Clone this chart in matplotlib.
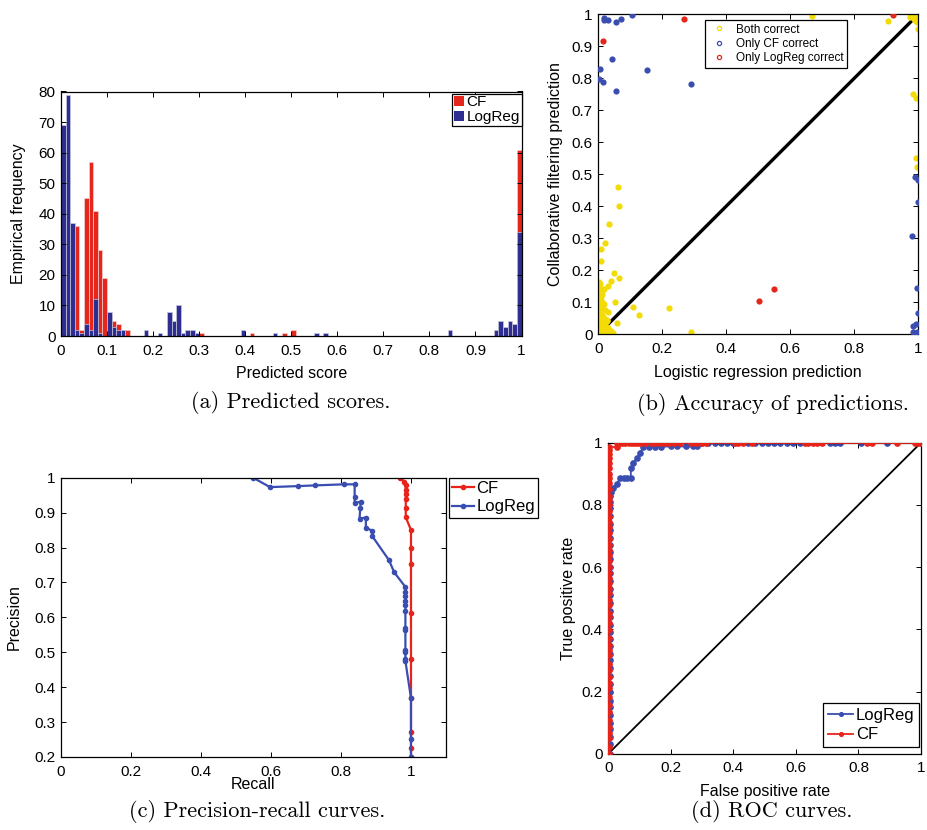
import numpy as np
import matplotlib
matplotlib.use('Agg')
import matplotlib.pyplot as plt
from matplotlib.patches import Patch
from matplotlib.lines import Line2D
from matplotlib.ticker import FuncFormatter

# D A T A ----------------------------------------------------------

# (a) histogram, bins of width 0.01 given by left edge
cf_bin_left = [0.00, 0.03, 0.04, 0.05, 0.06, 0.07, 0.08, 0.09, 0.10, 0.11,
               0.12, 0.13, 0.14, 0.30, 0.41, 0.48, 0.50, 0.99]
cf_counts = [0, 36, 2, 45, 57, 41, 28, 19, 7, 5,
             4, 2, 2, 1, 1, 1, 2, 61]
lr_bin_left = [0.00, 0.01, 0.02, 0.03, 0.04, 0.05, 0.06, 0.07, 0.08, 0.10,
               0.11, 0.12, 0.13, 0.18, 0.21, 0.23, 0.24, 0.25, 0.26, 0.27,
               0.28, 0.29, 0.39, 0.46, 0.55, 0.57, 0.84, 0.94, 0.95, 0.96,
               0.97, 0.98, 0.99]
lr_counts = [69, 79, 37, 2, 1, 4, 2, 12, 1, 8,
             3, 2, 2, 2, 1, 8, 5, 10, 1, 2,
             2, 1, 2, 1, 1, 1, 2, 2, 5, 3,
             5, 4, 34]

# (b) scatter: x = logistic regression, y = collaborative filtering
both_x = [0.062, 0.066, 0.033, 0.020, 0.008, 0.008, 0.050, 0.064, 0.003, 0.039,
          0.031, 0.002, 0.018, 0.011, 0.005, 0.053, 0.109, 0.222, 0.126, 0.290,
          0.059, 0.029, 0.002, 0.005, 0.010, 0.015, 0.020, 0.025, 0.003, 0.008,
          0.012, 0.004, 0.030, 0.035, 0.001, 0.006, 0.018, 0.022, 0.010, 0.040,
          0.045, 0.014, 0.001, 0.002, 0.007, 0.016, 0.026, 0.004, 0.012, 0.001,
          0.003, 0.009, 0.021, 0.028, 0.006, 0.013, 0.002, 0.017, 0.024, 0.008,
          0.667, 0.906, 0.998, 0.983, 0.992, 0.993, 0.995, 0.990, 0.995, 0.985,
          0.998, 0.992, 0.999, 0.988, 0.996, 0.980, 0.975, 0.993, 0.997, 0.986,
          0.978, 0.999, 0.991]
both_y = [0.461, 0.401, 0.345, 0.284, 0.266, 0.229, 0.192, 0.176, 0.164, 0.167,
          0.151, 0.148, 0.140, 0.125, 0.107, 0.099, 0.085, 0.082, 0.058, 0.005,
          0.034, 0.068, 0.010, 0.020, 0.005, 0.015, 0.030, 0.008, 0.040, 0.060,
          0.080, 0.090, 0.020, 0.005, 0.002, 0.030, 0.050, 0.012, 0.100, 0.010,
          0.004, 0.002, 0.070, 0.120, 0.015, 0.025, 0.045, 0.055, 0.035, 0.085,
          0.135, 0.115, 0.075, 0.040, 0.155, 0.060, 0.030, 0.095, 0.022, 0.048,
          0.996, 0.980, 0.954, 0.751, 0.739, 0.551, 0.523, 0.995, 0.990, 0.998,
          0.985, 0.980, 0.999, 0.990, 0.975, 0.995, 0.990, 0.988, 0.993, 0.984,
          0.997, 0.978, 0.999]
cf_only_x = [0.017, 0.019, 0.031, 0.055, 0.072, 0.105, 0.044, 0.006, 0.151, 0.002,
             0.014, 0.054, 0.291, 0.990, 1.000, 0.998, 0.979, 0.995, 0.998, 0.982,
             0.992, 0.983, 0.995]
cf_only_y = [0.982, 0.987, 0.982, 0.977, 0.985, 0.997, 0.861, 0.828, 0.826, 0.798,
             0.788, 0.760, 0.783, 0.492, 0.482, 0.414, 0.307, 0.145, 0.067, 0.026,
             0.031, 0.005, 0.005]
lr_only_x = [0.269, 0.015, 0.922, 0.501, 0.549]
lr_only_y = [0.986, 0.915, 0.999, 0.102, 0.141]

# (c) precision-recall
pr_lr_recall = [0.549, 0.597, 0.678, 0.727, 0.808, 0.839, 0.839, 0.839, 0.856, 0.855,
                0.853, 0.871, 0.871, 0.889, 0.889, 0.937, 0.952, 0.984, 0.984, 0.984,
                0.984, 0.984, 0.984, 0.984, 0.984, 0.984, 0.984, 0.984, 0.984, 1.000,
                1.000, 1.000]
pr_lr_precision = [1.000, 0.973, 0.976, 0.978, 0.981, 0.981, 0.945, 0.928, 0.931, 0.913,
                   0.883, 0.886, 0.857, 0.848, 0.833, 0.764, 0.729, 0.687, 0.674, 0.661,
                   0.648, 0.634, 0.617, 0.569, 0.564, 0.507, 0.500, 0.481, 0.475, 0.368,
                   0.251, 0.200]
pr_cf_recall = [0.969, 0.981, 0.985, 0.985, 0.985, 0.985, 0.985, 0.985, 1.000, 1.000,
                1.000, 1.000, 1.000, 1.000, 1.000, 1.000, 1.000]
pr_cf_precision = [1.000, 0.989, 0.979, 0.964, 0.952, 0.938, 0.912, 0.887, 0.850, 0.798,
                   0.752, 0.612, 0.480, 0.370, 0.273, 0.226, 0.200]

# (d) ROC curves
roc_lr_fpr = [0.004] * 37 + [0.008, 0.016, 0.027, 0.037, 0.050, 0.060, 0.072, 0.072, 0.080,
              0.091, 0.101, 0.112, 0.130, 0.150, 0.170, 0.200, 0.220, 0.250, 0.270,
              0.283, 0.283, 0.300, 0.320, 0.340, 0.360, 0.380, 0.399, 0.447, 0.470,
              0.490, 0.510, 0.530, 0.550, 0.570, 0.590, 0.613, 0.709, 0.725, 0.741,
              0.809, 0.891, 1.000]
roc_lr_tpr = [0.000, 0.030, 0.055, 0.080, 0.100, 0.125, 0.150, 0.170, 0.200, 0.225,
              0.250, 0.275, 0.300, 0.320, 0.345, 0.370, 0.390, 0.415, 0.440, 0.460,
              0.485, 0.510, 0.530, 0.555, 0.580, 0.600, 0.625, 0.650, 0.670, 0.695,
              0.720, 0.740, 0.765, 0.790, 0.810, 0.830, 0.842,
              0.842, 0.853, 0.866, 0.886, 0.886, 0.886, 0.886, 0.918, 0.934,
              0.950, 0.966, 0.985, 0.985, 0.987, 0.987, 0.988, 0.988, 0.988, 0.988,
              0.988, 1.000, 1.000, 1.000, 1.000, 1.000, 1.000, 1.000, 1.000, 1.000,
              1.000, 1.000, 1.000, 1.000, 1.000, 1.000, 1.000, 1.000, 1.000, 1.000,
              1.000, 1.000, 1.000]
roc_cf_fpr = [0.001] * 53 + [0.027, 0.027, 0.035, 0.045, 0.055, 0.065, 0.075, 0.085, 0.095,
              0.105, 0.117, 0.138, 0.150, 0.165, 0.180, 0.195, 0.210, 0.229, 0.266,
              0.280, 0.295, 0.314, 0.405, 0.415, 0.432, 0.458, 0.629, 0.640, 0.655,
              0.668, 0.682, 0.826, 0.842, 0.922, 0.980, 0.990, 1.000]
roc_cf_tpr = [0.000, 0.023, 0.049, 0.066, 0.087, 0.108, 0.135, 0.157, 0.183, 0.210,
              0.226, 0.248, 0.269, 0.287, 0.317, 0.333, 0.350, 0.371, 0.398, 0.419,
              0.440, 0.451, 0.478, 0.494, 0.516, 0.532, 0.548, 0.564, 0.580, 0.600,
              0.620, 0.640, 0.655, 0.672, 0.690, 0.710, 0.728, 0.745, 0.760, 0.780,
              0.800, 0.815, 0.830, 0.850, 0.870, 0.885, 0.900, 0.920, 0.935, 0.950,
              0.965, 0.978, 0.987,
              0.987, 1.000, 1.000, 1.000, 1.000, 1.000, 1.000, 1.000, 1.000,
              1.000, 1.000, 1.000, 1.000, 1.000, 1.000, 1.000, 1.000, 1.000, 1.000,
              1.000, 1.000, 1.000, 1.000, 1.000, 1.000, 1.000, 1.000, 1.000, 1.000,
              1.000, 1.000, 1.000, 1.000, 1.000, 1.000, 1.000, 1.000]

# S T Y L E --------------------------------------------------------
HIST_RED = '#E4261C'
HIST_BLUE = '#2D2E8F'
DOT_YELLOW = '#F3DC05'
DOT_BLUE = '#3B4DAE'
DOT_RED = '#E3271C'
LINE_BLUE = '#3A4DB0'
LINE_RED = '#E8231A'

plt.rcParams.update({
    'font.family': ['Liberation Sans', 'DejaVu Sans'],
    'font.size': 11,
    'axes.linewidth': 0.9,
    'xtick.direction': 'in',
    'ytick.direction': 'in',
    'xtick.top': True,
    'ytick.right': True,
    'xtick.major.size': 3.5,
    'ytick.major.size': 3.5,
    'xtick.major.width': 0.7,
    'ytick.major.width': 0.7,
    'xtick.labelsize': 11,
    'ytick.labelsize': 11,
    'xtick.major.pad': 5.5,
    'ytick.major.pad': 4,
    'axes.labelsize': 11.5,
    'legend.fancybox': False,
    'legend.framealpha': 1,
    'legend.edgecolor': 'black',
})

W, H = 927, 830


def px_box(left, top, right, bottom):
    return [left / W, 1 - bottom / H, (right - left) / W, (bottom - top) / H]


fmt = FuncFormatter(lambda v, p: f'{v:g}')


def matlab_legend(leg):
    leg.get_frame().set_linewidth(0.9)


fig = plt.figure(figsize=(W / 100, H / 100), dpi=100)

# (a) predicted score histogram ------------------------------------
ax = fig.add_axes(px_box(61, 91.5, 521.5, 336))
ax.bar(cf_bin_left, cf_counts, width=0.01, align='edge', color=HIST_RED,
       edgecolor='#f2d0d0', linewidth=0.5, label='CF')
ax.bar(lr_bin_left, lr_counts, width=0.01, align='edge', color=HIST_BLUE,
       edgecolor='#c8c8e0', linewidth=0.5, label='LogReg')
ax.set_xlim(0, 1)
ax.set_ylim(0, 80)
ax.set_xticks(np.arange(0, 1.01, 0.1))
ax.set_yticks(np.arange(0, 81, 10))
ax.xaxis.set_major_formatter(fmt)
ax.set_xlabel('Predicted score', labelpad=6)
ax.set_ylabel('Empirical frequency', labelpad=9)
handles = [Patch(facecolor=HIST_RED, edgecolor='none'),
           Patch(facecolor=HIST_BLUE, edgecolor='none')]
leg = ax.legend(handles, ['CF', 'LogReg'], loc='upper right',
                bbox_to_anchor=(1.0, 0.99), borderaxespad=0,
                handlelength=0.7, handleheight=0.7, handletextpad=0.15,
                borderpad=0.1, labelspacing=0.05, fontsize=11)
matlab_legend(leg)

# (b) accuracy scatter ---------------------------------------------
ax = fig.add_axes(px_box(598.3, 14.3, 918.3, 334))
ax.plot([0, 1], [0, 1], color='black', linewidth=2.4, zorder=1)
ax.scatter(both_x, both_y, s=20, color=DOT_YELLOW, linewidths=0, zorder=2)
ax.scatter(cf_only_x, cf_only_y, s=20, color=DOT_BLUE, linewidths=0, zorder=3)
ax.scatter(lr_only_x, lr_only_y, s=20, color=DOT_RED, linewidths=0, zorder=3)
ax.set_xlim(0, 1)
ax.set_ylim(0, 1)
ax.set_xticks(np.arange(0, 1.01, 0.2))
ax.set_yticks(np.arange(0, 1.01, 0.1))
ax.xaxis.set_major_formatter(fmt)
ax.yaxis.set_major_formatter(fmt)
ax.set_xlabel('Logistic regression prediction', labelpad=6.5)
ax.set_ylabel('Collaborative filtering prediction', labelpad=6)
handles = [Line2D([], [], ls='', marker='o', ms=3, mfc='none', mec=c, mew=0.9)
           for c in (DOT_YELLOW, DOT_BLUE, DOT_RED)]
leg = ax.legend(handles, ['Both correct', 'Only CF correct', 'Only LogReg correct'],
                loc='upper left', bbox_to_anchor=(0.333, 0.982), fontsize=8.5,
                handlelength=1.8, handletextpad=0.5, borderpad=0.3,
                labelspacing=0.2, borderaxespad=0)
matlab_legend(leg)

# (c) precision-recall ---------------------------------------------
ax = fig.add_axes(px_box(61, 477.7, 446, 757))
ax.plot(pr_cf_recall, pr_cf_precision, color=LINE_RED, linewidth=1.6,
        marker='o', ms=3, label='CF')
ax.plot(pr_lr_recall, pr_lr_precision, color=LINE_BLUE, linewidth=1.6,
        marker='o', ms=3, label='LogReg')
ax.set_xlim(0, 1.1)
ax.set_ylim(0.2, 1)
ax.set_xticks(np.arange(0, 1.01, 0.2))
ax.set_yticks(np.arange(0.2, 1.01, 0.1))
ax.xaxis.set_major_formatter(fmt)
ax.yaxis.set_major_formatter(fmt)
ax.set_xlabel('Recall', labelpad=-1)
ax.set_ylabel('Precision', labelpad=9)
leg = ax.legend(loc='upper left', bbox_to_anchor=(1.007, 1.0), borderaxespad=0,
                handlelength=1.3, handletextpad=0.15, borderpad=0.2,
                labelspacing=0.2, fontsize=12)
matlab_legend(leg)

# (d) ROC curves ---------------------------------------------------
ax = fig.add_axes(px_box(608.3, 442.7, 921, 753.7))
ax.plot([0, 1], [0, 1], color='black', linewidth=1.3, zorder=1)
ax.plot(roc_lr_fpr, roc_lr_tpr, color=LINE_BLUE, linewidth=1.3,
        marker='o', ms=3.8, label='LogReg', zorder=2)
ax.plot(roc_cf_fpr, roc_cf_tpr, color=LINE_RED, linewidth=1.3,
        marker='o', ms=3.8, label='CF', zorder=3)
ax.set_xlim(0, 1)
ax.set_ylim(0, 1)
ax.set_xticks(np.arange(0, 1.01, 0.2))
ax.set_yticks(np.arange(0, 1.01, 0.2))
ax.xaxis.set_major_formatter(fmt)
ax.yaxis.set_major_formatter(fmt)
ax.set_xlabel('False positive rate', labelpad=6)
ax.set_ylabel('True positive rate', labelpad=4)
leg = ax.legend(loc='lower right', bbox_to_anchor=(0.995, 0.02), borderaxespad=0,
                handlelength=1.5, handletextpad=0.15, borderpad=0.3,
                labelspacing=0.25, fontsize=12, markerscale=0.7)
matlab_legend(leg)

# C A P T I O N S --------------------------------------------------
cap = dict(family='cmr10', fontsize=16, ha='center', va='center')
fig.text(291 / W, 1 - 402 / H, '(a) Predicted scores.', **cap)
fig.text(773 / W, 1 - 404 / H, '(b) Accuracy of predictions.', **cap)
fig.text(257 / W, 1 - 811 / H, '(c) Precision-recall curves.', **cap)
fig.text(772 / W, 1 - 811 / H, '(d) ROC curves.', **cap)

fig.savefig('out.png', dpi=100)
